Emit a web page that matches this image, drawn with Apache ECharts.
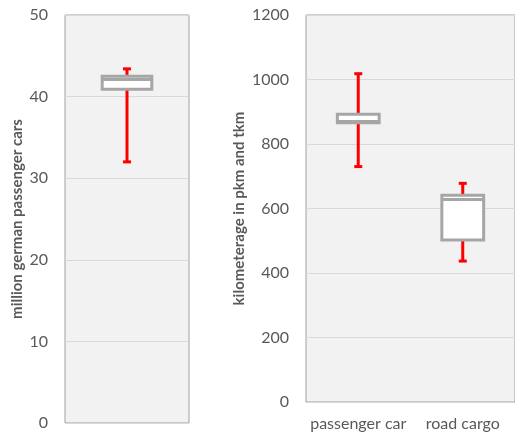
<!DOCTYPE html>
<html>
<head>
<meta charset="utf-8">
<script src="https://cdn.jsdelivr.net/npm/echarts@6/dist/echarts.min.js"></script>
<style>
html,body{margin:0;padding:0;background:#fff;}
#chart{width:515px;height:437px;}
</style>
</head>
<body>
<div id="chart"></div>
<script>
// Left panel: million German passenger cars
const carsCategories = [''];
const carsMin = [32.0];
const carsQ1 = [40.9];
const carsMedian = [42.1];
const carsQ3 = [42.5];
const carsMax = [43.4];
const carsTicks = [0, 10, 20, 30, 40, 50];

// Right panel: kilometerage in pkm and tkm
const kmCategories = ['passenger car', 'road cargo'];
const kmMin = [730, 437];
const kmQ1 = [866, 502];
const kmMedian = [870, 628];
const kmQ3 = [892, 641];
const kmMax = [1018, 678];
const kmTicks = [0, 200, 400, 600, 800, 1000, 1200];

const FONT = 'Lato';
const LABEL_COLOR = '#595959';

function buildData(cats, mn, q1, md, q3, mx) {
  return cats.map((c, i) => [i, mn[i], q1[i], md[i], q3[i], mx[i]]);
}

function renderBox(params, api) {
  const x = api.value(0);
  const pMin = api.coord([x, api.value(1)]);
  const pQ1 = api.coord([x, api.value(2)]);
  const pMed = api.coord([x, api.value(3)]);
  const pQ3 = api.coord([x, api.value(4)]);
  const pMax = api.coord([x, api.value(5)]);
  const band = api.size([1, 0])[0];
  const boxW = band * 0.4;
  const cx = pMed[0];
  const capW = 8;
  const red = '#ff0000';
  const gray = '#a6a6a6';
  return {
    type: 'group',
    children: [
      { type: 'line', shape: { x1: cx, y1: pQ3[1], x2: cx, y2: pMax[1] }, style: { stroke: red, lineWidth: 3 } },
      { type: 'line', shape: { x1: cx, y1: pQ1[1], x2: cx, y2: pMin[1] }, style: { stroke: red, lineWidth: 3 } },
      { type: 'rect', shape: { x: cx - capW / 2, y: pMax[1] - 1.5, width: capW, height: 3 }, style: { fill: red } },
      { type: 'rect', shape: { x: cx - capW / 2, y: pMin[1] - 1.5, width: capW, height: 3 }, style: { fill: red } },
      { type: 'rect', shape: { x: cx - boxW / 2, y: pQ3[1], width: boxW, height: pQ1[1] - pQ3[1] }, style: { fill: '#ffffff', stroke: gray, lineWidth: 3 } },
      { type: 'line', shape: { x1: cx - boxW / 2, y1: pMed[1], x2: cx + boxW / 2, y2: pMed[1] }, style: { stroke: gray, lineWidth: 3 } }
    ]
  };
}

const chart = echarts.init(document.getElementById('chart'), null, { renderer: 'canvas' });

const yAxisCommon = {
  type: 'value',
  nameLocation: 'middle',
  nameRotate: 90,
  nameTextStyle: { fontFamily: FONT, fontWeight: 'bold', fontSize: 15, color: LABEL_COLOR },
  axisLine: { show: false },
  axisTick: { show: false },
  axisLabel: { fontFamily: FONT, fontSize: 16, color: LABEL_COLOR, margin: 17, formatter: v => String(v) },
  splitLine: { show: true, lineStyle: { color: '#d9d9d9', width: 1 } }
};

chart.setOption({
  animation: false,
  backgroundColor: '#ffffff',
  grid: [
    { left: 65, top: 15, width: 124, height: 408, show: true, backgroundColor: '#f2f2f2', borderColor: '#a0a0a0', borderWidth: 1 },
    { left: 306, top: 15, width: 212, height: 387, show: true, backgroundColor: '#f2f2f2', borderColor: '#a0a0a0', borderWidth: 1 }
  ],
  xAxis: [
    { type: 'category', gridIndex: 0, data: carsCategories, axisLine: { show: false }, axisTick: { show: false }, axisLabel: { show: false } },
    { type: 'category', gridIndex: 1, data: kmCategories, axisLine: { show: false }, axisTick: { show: false },
      axisLabel: { fontFamily: FONT, fontSize: 16, color: LABEL_COLOR, margin: 14, interval: 0, hideOverlap: false } }
  ],
  yAxis: [
    Object.assign({}, yAxisCommon, { gridIndex: 0, min: carsTicks[0], max: carsTicks[carsTicks.length - 1], interval: 10,
      name: 'million german passenger cars', nameGap: 40 }),
    Object.assign({}, yAxisCommon, { gridIndex: 1, min: kmTicks[0], max: kmTicks[kmTicks.length - 1], interval: 200,
      name: 'kilometerage in pkm and tkm', nameGap: 59 })
  ],
  series: [
    { type: 'custom', xAxisIndex: 0, yAxisIndex: 0, renderItem: renderBox,
      data: buildData(carsCategories, carsMin, carsQ1, carsMedian, carsQ3, carsMax) },
    { type: 'custom', xAxisIndex: 1, yAxisIndex: 1, renderItem: renderBox,
      data: buildData(kmCategories, kmMin, kmQ1, kmMedian, kmQ3, kmMax) }
  ]
});
</script>
</body>
</html>
